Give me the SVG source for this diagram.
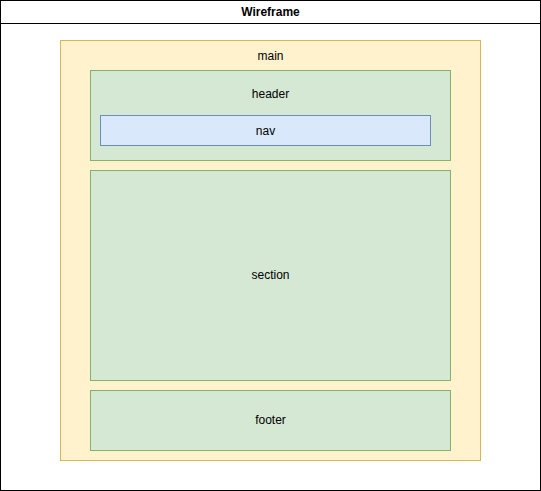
<svg xmlns="http://www.w3.org/2000/svg" width="541" height="491" viewBox="0 0 541 491">
<style>
text{font-family:"Liberation Sans",Arial,sans-serif;font-size:12px;fill:#000;text-anchor:middle;dominant-baseline:central}
.y{fill:#fff2cc;stroke:#d6b656}
.g{fill:#d5e8d4;stroke:#82b366}
.b{fill:#dae8fc;stroke:#6c8ebf}
</style>
<rect width="541" height="491" fill="#fff"/>
<g id="wireframe">
<rect x="0.5" y="0.5" width="540" height="490" fill="#fff" stroke="#000"/>
<line x1="0.5" y1="23.5" x2="540.5" y2="23.5" stroke="#000"/>
<text x="270.5" y="12" style="font-weight:bold">Wireframe</text>
</g>
<g id="main">
<rect class="y" x="60.5" y="40.5" width="420" height="420"/>
<text x="270.5" y="55.5">main</text>
</g>
<g id="header">
<rect class="g" x="90.5" y="70.5" width="360" height="90"/>
<text x="270.5" y="93.5">header</text>
</g>
<g id="nav">
<rect class="b" x="100.5" y="115.5" width="330" height="30"/>
<text x="265.5" y="130.5">nav</text>
</g>
<g id="section">
<rect class="g" x="90.5" y="170.5" width="360" height="210"/>
<text x="270.5" y="275">section</text>
</g>
<g id="footer">
<rect class="g" x="90.5" y="390.5" width="360" height="60"/>
<text x="270.5" y="420">footer</text>
</g>
<g id="connectors"/>
</svg>
